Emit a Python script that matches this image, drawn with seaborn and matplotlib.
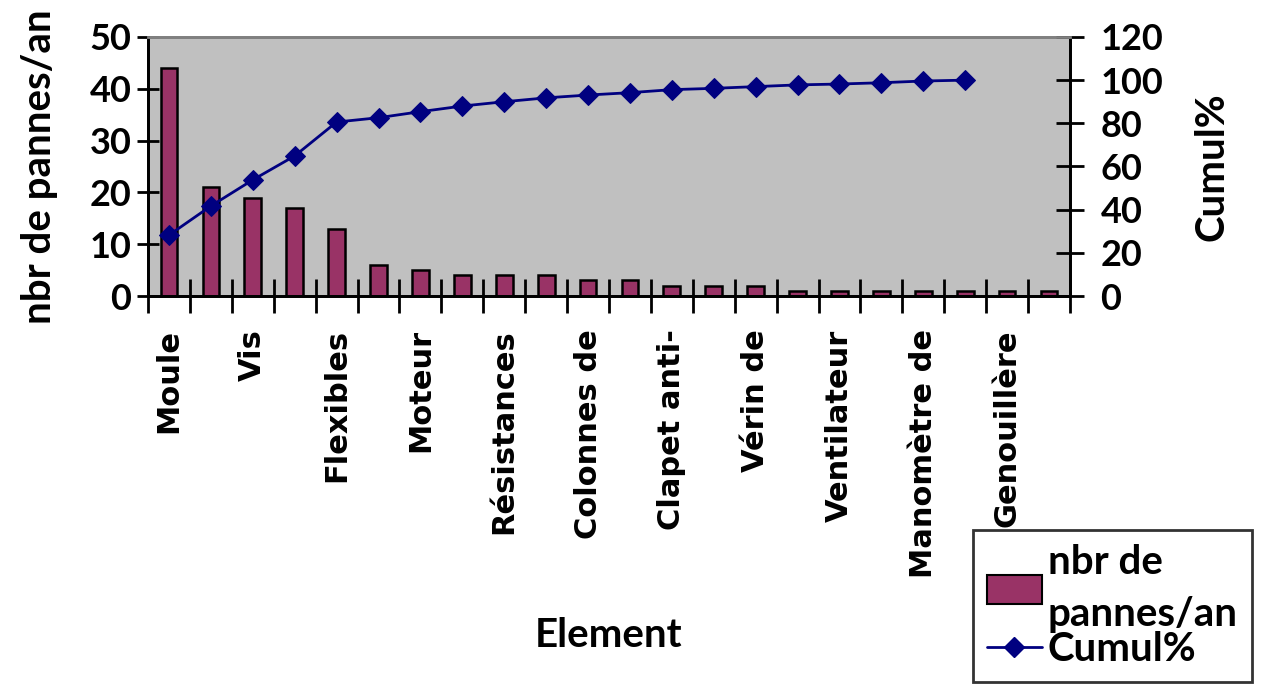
import numpy as np
import pandas as pd
import matplotlib
matplotlib.use('Agg')
import matplotlib.pyplot as plt
import seaborn as sns
from matplotlib.lines import Line2D
from matplotlib.patches import Patch

# Pareto data
tick_labels = ['Moule', '', 'Vis', '', 'Flexibles', '', 'Moteur', '', 'Résistances', '',
               'Colonnes de', '', 'Clapet anti-', '', 'Vérin de', '', 'Ventilateur', '',
               'Manomètre de', '', 'Genouillère', '']
pannes = [44, 21, 19, 17, 13, 6, 5, 4, 4, 4, 3, 3, 2, 2, 2, 1, 1, 1, 1, 1, 1, 1]
cumul = [28.2, 41.7, 53.8, 64.9, 80.6, 82.6, 85.4, 88.0, 90.0, 91.8,
         93.1, 94.2, 95.6, 96.2, 97.0, 97.8, 98.2, 98.8, 99.6, 100.0]

sns.set_style('white')
plt.rcParams['font.family'] = ['Lato', 'DejaVu Sans']
plt.rcParams['font.weight'] = 'bold'
plt.rcParams['axes.labelweight'] = 'bold'
for k in ('text.color', 'axes.labelcolor', 'xtick.color', 'ytick.color'):
    plt.rcParams[k] = 'black'

df = pd.DataFrame({'rang': np.arange(len(pannes)), 'pannes': pannes})
df_cum = pd.DataFrame({'rang': np.arange(len(cumul)), 'cumul': cumul})

fig = plt.figure(figsize=(12.61, 6.95), dpi=100)
ax = fig.add_axes([0.1174, 0.5741, 0.7311, 0.3727])
ax.set_facecolor('#C0C0C0')

sns.barplot(data=df, x='rang', y='pannes', width=0.4, color='#993366',
            edgecolor='black', linewidth=1.8, saturation=1, ax=ax)
ax.set_xlim(-0.5, len(pannes) - 0.5)
ax.set_ylim(0, 50)
ax.set_yticks(range(0, 51, 10))

ax2 = ax.twinx()
sns.lineplot(data=df_cum, x='rang', y='cumul', color='#000080', linewidth=2,
             marker='D', markersize=10, markeredgecolor='#000080', ax=ax2)
ax2.set_ylim(0, 120)
ax2.set_yticks(range(0, 121, 20))
ax2.set_xlim(-0.5, len(pannes) - 0.5)

# x ticks: cross ticks at the category boundaries, labels at the centers
ax.set_xticks(np.arange(-0.5, len(pannes)))
ax.set_xticklabels([])
ax.set_xticks(np.arange(len(pannes)), minor=True)
ax.set_xticklabels(tick_labels, minor=True, rotation=90, family='DejaVu Sans',
                   fontsize=22, fontweight='bold')
ax.tick_params(axis='x', which='major', bottom=True, direction='inout', length=24, width=2)
ax.tick_params(axis='x', which='minor', bottom=True, length=0, pad=24)
ax.tick_params(axis='y', left=True, direction='inout', length=16, width=2, labelsize=26, pad=4)
ax2.tick_params(axis='y', right=True, direction='inout', length=20, width=2, labelsize=26, pad=12)

for a in (ax, ax2):
    for s in a.spines.values():
        s.set_linewidth(2)
        s.set_color('black')
    a.spines['top'].set_color('#808080')

ax.set_xlabel('Element', fontsize=29, fontweight='bold', labelpad=28)
ax.set_ylabel('nbr de pannes/an', fontsize=29, fontweight='bold', labelpad=23)
ax2.set_ylabel('Cumul%', fontsize=29, fontweight='bold', labelpad=22)

handles = [Patch(facecolor='#993366', edgecolor='black', linewidth=1.5),
           Line2D([0], [0], color='#000080', linewidth=2, marker='D', markersize=10)]
leg = fig.legend(handles, ['nbr de\npannes/an', 'Cumul%'], loc='upper left',
                 bbox_to_anchor=(973 / 1261, 1 - 530 / 695), frameon=True,
                 fancybox=False, edgecolor='black',
                 prop={'weight': 'bold', 'size': 29},
                 handlelength=1.36, handletextpad=0.15, labelspacing=-0.05,
                 borderpad=0.35, borderaxespad=0)
leg.get_frame().set_linewidth(2)
for t in leg.get_texts():
    t.set_linespacing(1.5)

fig.savefig('out.png', dpi=100)
